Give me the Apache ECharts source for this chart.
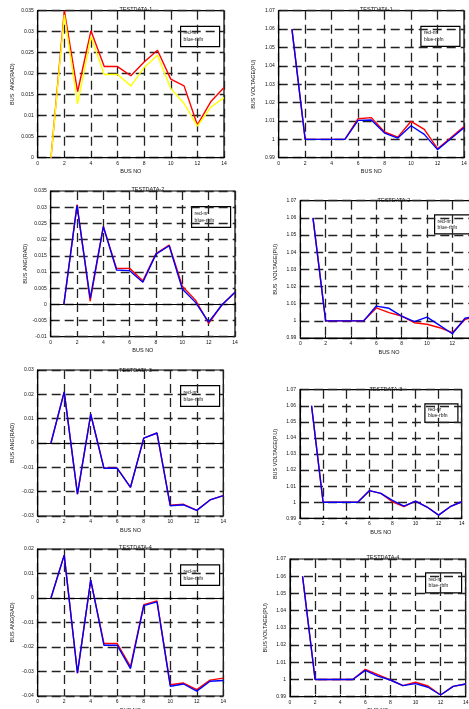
<!DOCTYPE html>
<html>
<head>
<meta charset="utf-8">
<script src="https://cdn.jsdelivr.net/npm/echarts@6/dist/echarts.min.js"></script>
<style>
  html, body { margin: 0; padding: 0; background: #fff; }
  #chart { width: 469px; height: 709px; }
</style>
</head>
<body>
<div id="chart"></div>
<script>
// bus numbers (x values)
const busNo = [1, 2, 3, 4, 5, 6, 7, 8, 9, 10, 11, 12, 13, 14]

// TESTDATA-1
const ang1Nr = [0, 0.035, 0.0157, 0.0302, 0.0217, 0.0217, 0.0195, 0.0228, 0.0256, 0.0187, 0.0171, 0.0078, 0.0133, 0.0167]
const ang1Rbfn = [0, 0.034, 0.0128, 0.0288, 0.0198, 0.0198, 0.0171, 0.0215, 0.0244, 0.0165, 0.0129, 0.0075, 0.012, 0.0143]
const vol1Nr = [1.06, 1, 1, 1, 1, 1.0112, 1.0118, 1.004, 1.0012, 1.0098, 1.0054, 0.9949, 1.0009, 1.0069]
const vol1Rbfn = [1.06, 1, 1, 1, 1, 1.0103, 1.0105, 1.0034, 1.0007, 1.0074, 1.0027, 0.9944, 1.0003, 1.0063]

// TESTDATA-2
const ang2Nr = [0, 0.0308, 0.001, 0.024, 0.0111, 0.0111, 0.0073, 0.0157, 0.0183, 0.0056, 0.0013, -0.0059, -0.0002, 0.0037]
const ang2Rbfn = [0, 0.0305, 0.0018, 0.024, 0.0106, 0.0104, 0.0068, 0.0155, 0.0181, 0.0047, 0.0006, -0.0055, -0.0002, 0.0037]
const vol2Nr = [1.06, 1, 1, 1, 1, 1.0075, 1.0048, 1.0028, 0.9989, 0.998, 0.996, 0.9931, 1.0008, 1.003]
const vol2Rbfn = [1.06, 1, 1, 1, 1, 1.0086, 1.0073, 1.0028, 0.9995, 1.0022, 0.9974, 0.9925, 1.0015, 1.003]

// TESTDATA-3
const ang3Nr = [0, 0.021, -0.021, 0.0118, -0.0104, -0.0104, -0.0182, 0.002, 0.0041, -0.0256, -0.0252, -0.0277, -0.0234, -0.0216]
const ang3Rbfn = [0, 0.021, -0.021, 0.0118, -0.0104, -0.0104, -0.0182, 0.002, 0.0041, -0.0258, -0.0254, -0.0277, -0.0234, -0.0216]
const vol3Nr = [1.06, 1, 1, 1, 1, 1.0072, 1.0055, 1.0003, 0.9973, 1.0007, 0.997, 0.992, 0.9972, 1.0003]
const vol3Rbfn = [1.06, 1, 1, 1, 1, 1.0072, 1.0055, 1.0011, 0.9976, 1.0007, 0.997, 0.992, 0.9972, 1.0003]

// TESTDATA-4
const ang4Nr = [0, 0.0175, -0.0307, 0.0073, -0.0186, -0.0186, -0.028, -0.0027, -0.0012, -0.0354, -0.0347, -0.0374, -0.0335, -0.0327]
const ang4Rbfn = [0, 0.0175, -0.0307, 0.0073, -0.0193, -0.0193, -0.0288, -0.0031, -0.0016, -0.036, -0.0351, -0.038, -0.034, -0.0337]
const vol4Nr = [1.06, 1, 1, 1, 1, 1.0059, 1.0028, 0.9997, 0.9964, 0.9984, 0.9962, 0.991, 0.996, 0.9974]
const vol4Rbfn = [1.06, 1, 1, 1, 1, 1.0053, 1.002, 0.9997, 0.9964, 0.9976, 0.9955, 0.991, 0.996, 0.9974]

const font = 'Liberation Sans, Arial, sans-serif'

// panel layout: grid box, title, legend box, axis settings
const panels = [
  { title: 'TESTDATA-1', box: [37.7, 10.7, 186.3, 147], titleY: 4, leg: [180, 25.7, 39, 20.3],
    yName: 'BUS  ANG(RAD)', yMin: 0, yMax: 0.035, yInt: 0.005, nr: ang1Nr, rbfn: ang1Rbfn, c2: '#ffff00' },
  { title: 'TESTDATA-1', box: [278.7, 10.7, 185.3, 147], titleY: 4, leg: [420.3, 25.7, 39, 20],
    yName: 'BUS VOLTAGE(PU)', yMin: 0.99, yMax: 1.07, yInt: 0.01, nr: vol1Nr, rbfn: vol1Rbfn, c2: '#0000ff' },
  { title: 'TESTDATA-2', box: [50.7, 191, 184.3, 145.7], titleY: 184.7, leg: [191, 206, 39, 20.7],
    yName: 'BUS ANG(RAD)', yMin: -0.01, yMax: 0.035, yInt: 0.005, nr: ang2Nr, rbfn: ang2Rbfn, c2: '#0000ff' },
  { title: 'TESTDATA-2', box: [300.3, 200.7, 177.4, 137.3], titleY: 195, leg: [434, 214.3, 40, 19],
    yName: 'BUS  VOLTAGE(PU)', yMin: 0.99, yMax: 1.07, yInt: 0.01, nr: vol2Nr, rbfn: vol2Rbfn, c2: '#0000ff' },
  { title: 'TESTDATA-3', box: [37.7, 370, 185.6, 146], titleY: 365, leg: [180, 385, 39, 20.7],
    yName: 'BUS ANG(RAD)', yMin: -0.03, yMax: 0.03, yInt: 0.01, nr: ang3Nr, rbfn: ang3Rbfn, c2: '#0000ff' },
  { title: 'TESTDATA-3', box: [300, 389.7, 161.7, 128.6], titleY: 384, leg: [424.3, 403.3, 33, 18.4],
    yName: 'BUS VOLTAGE(P.U)', yMin: 0.99, yMax: 1.07, yInt: 0.01, nr: vol3Nr, rbfn: vol3Rbfn, c2: '#0000ff' },
  { title: 'TESTDATA-4', box: [37.7, 549, 185.6, 147], titleY: 542.7, leg: [180, 564.3, 39, 20.4],
    yName: 'BUS ANG(RAD)', yMin: -0.04, yMax: 0.02, yInt: 0.01, nr: ang4Nr, rbfn: ang4Rbfn, c2: '#0000ff' },
  { title: 'TESTDATA-4', box: [290, 559, 175.7, 137.7], titleY: 552.7, leg: [425, 572.3, 36, 20],
    yName: 'BUS VOLTAGE(PU)', yMin: 0.99, yMax: 1.07, yInt: 0.01, nr: vol4Nr, rbfn: vol4Rbfn, c2: '#0000ff' }
]

const grids = []
const xAxes = []
const yAxes = []
const titles = []
const series = []
const graphics = []

panels.forEach(function(p, i) {
  const b = p.box
  grids.push({
    left: b[0], top: b[1], width: b[2], height: b[3],
    containLabel: false, outerBoundsMode: 'none',
    show: true, borderColor: '#000', borderWidth: 1.2, backgroundColor: '#fff'
  })
  xAxes.push({
    type: 'value', gridIndex: i, min: 0, max: 14, interval: 2,
    name: 'BUS NO', nameLocation: 'middle', nameGap: 11,
    nameTextStyle: { fontSize: 5.5, fontFamily: font, color: '#111' },
    axisLine: { lineStyle: { color: '#000', width: 1 } },
    axisTick: { inside: true, length: 2, lineStyle: { color: '#000' } },
    axisLabel: { fontSize: 5, fontFamily: font, color: '#111', margin: 3 },
    splitLine: { show: true, lineStyle: { color: '#222', width: 1.3, type: [9, 5] } }
  })
  yAxes.push({
    type: 'value', gridIndex: i, min: p.yMin, max: p.yMax, interval: p.yInt,
    name: p.yName, nameLocation: 'middle', nameGap: 22,
    nameTextStyle: { fontSize: 5.5, fontFamily: font, color: '#111' },
    axisLine: { show: true, lineStyle: { color: '#000', width: 1 } },
    axisTick: { inside: true, length: 2, lineStyle: { color: '#000' } },
    axisLabel: {
      fontSize: 5, fontFamily: font, color: '#111', margin: 4,
      formatter: function(v) { return String(+v.toFixed(4)) }
    },
    splitLine: { show: true, lineStyle: { color: '#222', width: 1.3, type: [9, 5] } }
  })
  titles.push({
    text: p.title, left: b[0] + b[2] / 2, top: p.titleY - 3, textAlign: 'center',
    textStyle: { fontSize: 5.5, fontWeight: 'normal', fontFamily: font, color: '#111' }
  })
  series.push({
    name: 'red-nr', type: 'line', xAxisIndex: i, yAxisIndex: i,
    data: busNo.map(function(x, k) { return [x, p.nr[k]] }),
    showSymbol: false, lineStyle: { color: '#ff0000', width: 1.4 }, itemStyle: { color: '#ff0000' },
    animation: false
  })
  series.push({
    name: 'blue-rbfn', type: 'line', xAxisIndex: i, yAxisIndex: i,
    data: busNo.map(function(x, k) { return [x, p.rbfn[k]] }),
    showSymbol: false, lineStyle: { color: p.c2, width: 1.4 }, itemStyle: { color: p.c2 },
    animation: false
  })
  const L = p.leg
  graphics.push({
    type: 'group', left: L[0], top: L[1],
    children: [
      { type: 'rect', shape: { x: 0, y: 0, width: L[2], height: L[3] },
        style: { fill: '#fff', stroke: '#000', lineWidth: 1.2 } },
      { type: 'text', x: 3, y: L[3] * 0.33, style: { text: 'red-nr', fontSize: 5, fontFamily: font, fill: '#111', textVerticalAlign: 'middle' } },
      { type: 'text', x: 3, y: L[3] * 0.66, style: { text: 'blue-rbfn', fontSize: 5, fontFamily: font, fill: '#111', textVerticalAlign: 'middle' } }
    ]
  })
})

const chart = echarts.init(document.getElementById('chart'))
chart.setOption({
  animation: false,
  backgroundColor: '#fff',
  title: titles,
  grid: grids,
  xAxis: xAxes,
  yAxis: yAxes,
  series: series,
  graphic: graphics
})
</script>
</body>
</html>
